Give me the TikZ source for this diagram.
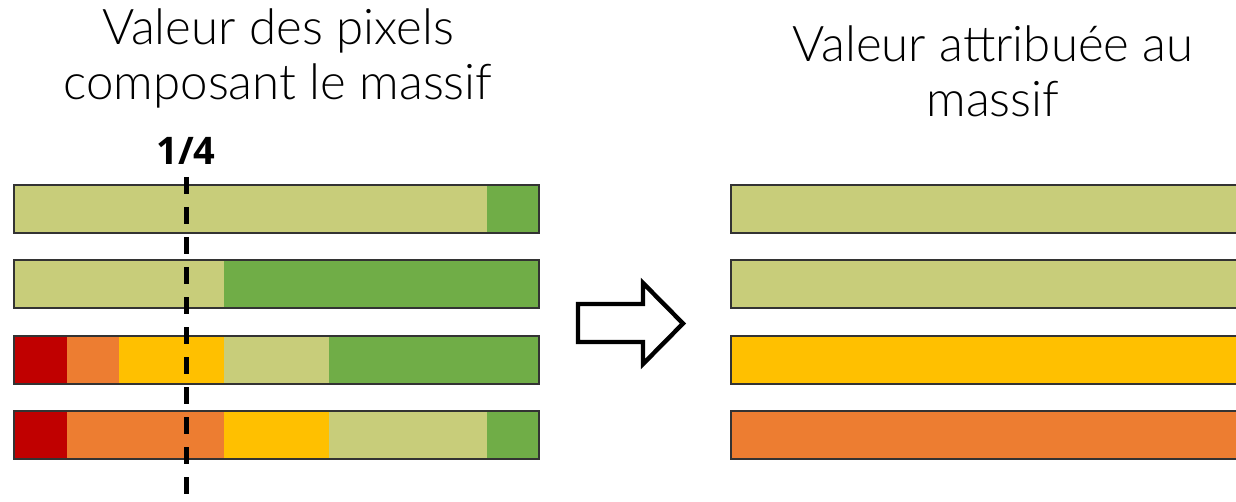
\documentclass[tikz,border=0pt]{standalone}
\usepackage{fontspec}
\setmainfont{Lato Light}
\newfontfamily\chiffres{Open Sans}
\usetikzlibrary{positioning}
\definecolor{vertclair}{HTML}{C8CD7A}
\definecolor{vertfonce}{HTML}{70AD47}
\definecolor{rouge}{HTML}{C00000}
\definecolor{orange}{HTML}{ED7D31}
\definecolor{jaune}{HTML}{FFC000}
\definecolor{contour}{HTML}{333333}

\begin{document}
\begin{tikzpicture}[
    x=0.5pt, y=-0.5pt,
    titre/.style={align=center, inner sep=0pt, font=\fontsize{24.6}{27.5}\selectfont},
    quart/.style={inner sep=0pt, font=\chiffres\bfseries\fontsize{19}{19}\selectfont},
    barre/.style={draw=contour, line width=1pt},
    seuil/.style={draw=black, line width=2.5pt, dash pattern=on 8.5pt off 6.5pt},
    fleche/.style={draw=black, line width=2.2pt, fill=white, line join=miter}
  ]
    \useasboundingbox (0,0) rectangle (1236,502);
    \clip (0,0) rectangle (1236,502);

    % base = derniere ligne
    \node[titre, anchor=base] (titreg) at (278,100) {Valeur des pixels\\composant le massif};
    \node[titre, anchor=base] (titred) at (993,117) {Valeur attribuée au\\massif};

    % pixels du massif, en dixiemes de barre
    \foreach \y/\liste in {185/{0/9/vertclair,9/10/vertfonce},
                           260/{0/4/vertclair,4/10/vertfonce},
                           336/{0/1/rouge,1/2/orange,2/4/jaune,4/6/vertclair,6/10/vertfonce},
                           411/{0/1/rouge,1/4/orange,4/6/jaune,6/9/vertclair,9/10/vertfonce}}{
      \foreach \a/\b/\c in \liste
        \fill[\c] (14+52.5*\a,\y) rectangle (14+52.5*\b,\y+48);
      \draw[barre] (14,\y) rectangle (539,\y+48);
    }

    % valeur retenue
    \foreach \y/\c in {185/vertclair,260/vertclair,336/jaune,411/orange}
      \draw[barre, fill=\c] (731,\y) rectangle (1250,\y+48);

    \node[quart, anchor=base] (q) at (186,165) {1/4};
    \coordinate (haut) at (186,177);
    \coordinate (bas) at (186,494);
    \draw[seuil] (haut) -- (bas);

    \draw[fleche] (578,304) -- (643,304) -- (643,283) -- (683,323.5)
      -- (643,364) -- (643,342) -- (578,342) -- cycle;
  \end{tikzpicture}
\end{document}
